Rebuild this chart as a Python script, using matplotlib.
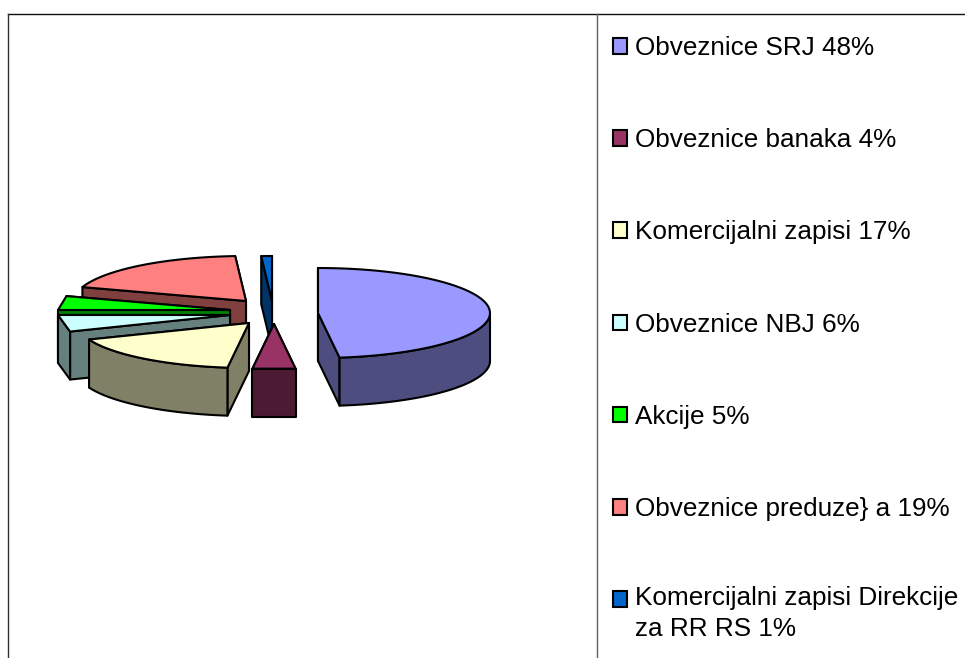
#!/usr/bin/env python

import numpy as np
import matplotlib
matplotlib.use('Agg')
import matplotlib.pyplot as plt
from matplotlib.patches import Polygon, Rectangle

labels = ['Obveznice SRJ 48%', 'Obveznice banaka 4%', 'Komercijalni zapisi 17%',
          'Obveznice NBJ 6%', 'Akcije 5%', 'Obveznice preduze} a 19%',
          'Komercijalni zapisi Direkcije\nza RR RS 1%']
shares = [48, 4, 17, 6, 5, 19, 1]
colors = ['#9999FF', '#993366', '#FFFFCC', '#CCFFFF', '#00FF00', '#FF8080', '#0066CC']

# exploded slice apexes in pixels, same order as shares
apex_x = [318, 274, 249, 230, 230, 246, 272]
apex_y = [313, 324, 323, 315, 310, 301, 301]

rx, ry = 172.0, 45.0
depth = 48.0

plt.rcParams['font.family'] = ['Liberation Sans', 'DejaVu Sans']
fig = plt.figure(figsize=(9.65, 6.58), dpi=100)
ax = fig.add_axes([0, 0, 1, 1])
ax.set_xlim(0, 965)
ax.set_ylim(658, 0)
ax.axis('off')

# chart frame, bottom is cut off in the original
ax.plot([8, 965], [14.2, 14.2], color='#101010', lw=1.0)
ax.plot([8.2, 8.2], [14, 658], color='#303030', lw=1.0)
ax.plot([597, 597], [14, 658], color='#606060', lw=1.0)


def rim(cx, cy, a):
    # angle runs clockwise from 12 o'clock, degrees
    t = np.radians(a)
    return cx + rx * np.sin(t), cy - ry * np.cos(t)


def add_face(points, fc, z):
    ax.add_patch(Polygon(points, closed=True, fc=fc, ec='black', lw=1.5,
                         joinstyle='round', zorder=z))


edges = np.cumsum([0] + shares) * 3.6

# painter's order: back slices first, first slice last
order = [6, 5, 4, 3, 2, 1, 0]
z = 2
for i in order:
    start, end = edges[i], edges[i + 1]
    cx, cy = apex_x[i], apex_y[i]
    side = tuple(c / 2 for c in matplotlib.colors.to_rgb(colors[i]))
    # small slices are plain chords in the original
    n = 2 if shares[i] <= 6 else 60

    # cut faces, the one further back goes first
    cuts = sorted([start, end], key=lambda a: rim(cx, cy, a)[1])
    for a in cuts:
        x, y = rim(cx, cy, a)
        add_face([(cx, cy), (x, y), (x, y + depth), (cx, cy + depth)], side, z)
        z += 1

    # outer wall, only the front half shows
    lo, hi = max(start, 90), min(end, 270)
    if lo < hi:
        ang = np.linspace(lo, hi, n)
        xs, ys = rim(cx, cy, ang)
        wall = list(zip(xs, ys)) + list(zip(xs[::-1], ys[::-1] + depth))
        add_face(wall, side, z)
        z += 1

    ang = np.linspace(start, end, n)
    xs, ys = rim(cx, cy, ang)
    add_face([(cx, cy)] + list(zip(xs, ys)), colors[i], z)
    z += 1

# legend
for i, label in enumerate(labels):
    y = 46 + 92.2 * i
    ax.add_patch(Rectangle((612.5, y - 8), 14, 15.5, fc=colors[i], ec='black', lw=1.5, zorder=z))
    lines = label.split('\n')
    if len(lines) == 1:
        ax.text(635, y + 9, lines[0], fontsize=18.8, color='black', va='baseline', zorder=z)
    else:
        ax.text(635, y + 6, lines[0], fontsize=18.8, color='black', va='baseline', zorder=z)
        ax.text(635, y + 37, lines[1], fontsize=18.8, color='black', va='baseline', zorder=z)

fig.savefig('out.png', dpi=100)
